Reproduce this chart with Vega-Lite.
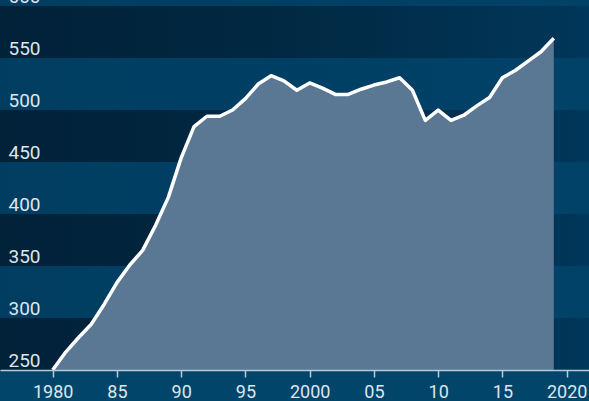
{
  "$schema": "https://vega.github.io/schema/vega-lite/v6.json",
  "width": 589,
  "height": 370,
  "autosize": "none",
  "padding": {"left": 0, "top": 0, "right": 0, "bottom": 31},
  "background": "#01456b",
  "config": {"view": {"stroke": null}, "font": "Roboto"},
  "datasets": {
    "bands": [
      {"lo": 250, "hi": 300, "shade": "dark"},
      {"lo": 300, "hi": 350, "shade": "light"},
      {"lo": 350, "hi": 400, "shade": "dark"},
      {"lo": 400, "hi": 450, "shade": "light"},
      {"lo": 450, "hi": 500, "shade": "dark"},
      {"lo": 500, "hi": 550, "shade": "light"},
      {"lo": 550, "hi": 600, "shade": "dark"},
      {"lo": 600, "hi": 620, "shade": "light"}
    ],
    "series": [
      {"year": 1980, "value": 250},
      {"year": 1981, "value": 267},
      {"year": 1982, "value": 281},
      {"year": 1983, "value": 294},
      {"year": 1984, "value": 313},
      {"year": 1985, "value": 334},
      {"year": 1986, "value": 351},
      {"year": 1987, "value": 365},
      {"year": 1988, "value": 389},
      {"year": 1989, "value": 416},
      {"year": 1990, "value": 454},
      {"year": 1991, "value": 484},
      {"year": 1992, "value": 494},
      {"year": 1993, "value": 494},
      {"year": 1994, "value": 500},
      {"year": 1995, "value": 511},
      {"year": 1996, "value": 525},
      {"year": 1997, "value": 533},
      {"year": 1998, "value": 528},
      {"year": 1999, "value": 519},
      {"year": 2000, "value": 526},
      {"year": 2001, "value": 521},
      {"year": 2002, "value": 515},
      {"year": 2003, "value": 515},
      {"year": 2004, "value": 520},
      {"year": 2005, "value": 524},
      {"year": 2006, "value": 527},
      {"year": 2007, "value": 531},
      {"year": 2008, "value": 519},
      {"year": 2009, "value": 490},
      {"year": 2010, "value": 500},
      {"year": 2011, "value": 490},
      {"year": 2012, "value": 495},
      {"year": 2013, "value": 504},
      {"year": 2014, "value": 512},
      {"year": 2015, "value": 531},
      {"year": 2016, "value": 538},
      {"year": 2017, "value": 547},
      {"year": 2018, "value": 556},
      {"year": 2019, "value": 569}
    ]
  },
  "layer": [
    {
      "data": {"name": "bands"},
      "transform": [{"filter": "datum.shade == 'light'"}],
      "mark": {"type": "rect", "clip": true, "fill": {"gradient": "linear", "x1": 0, "x2": 1, "y1": 0, "y2": 0, "stops": [{"offset": 0, "color": "#003d61"}, {"offset": 1, "color": "#014268"}]}},
      "encoding": {
        "y": {"field": "lo", "type": "quantitative", "scale": {"domain": [250, 605.8], "nice": false, "zero": false},
          "axis": {"values": [250, 300, 350, 400, 450, 500, 550, 600], "title": null, "grid": false, "domain": false, "ticks": false, "tickSize": 0,
            "labelAlign": "left", "labelBaseline": "alphabetic", "labelPadding": -8, "labelOffset": -4,
            "labelColor": "#dde6ee", "labelFontSize": 19, "labelFont": "Roboto", "labelFlush": false, "labelOverlap": false, "zindex": 2}},
        "y2": {"field": "hi"}
      }
    },
    {
      "data": {"name": "bands"},
      "transform": [{"filter": "datum.shade == 'dark'"}],
      "mark": {"type": "rect", "clip": true, "fill": {"gradient": "linear", "x1": 0, "x2": 1, "y1": 0, "y2": 0, "stops": [{"offset": 0, "color": "#012138"}, {"offset": 0.5, "color": "#012943"}, {"offset": 1, "color": "#01375a"}]}},
      "encoding": {
        "y": {"field": "lo", "type": "quantitative"},
        "y2": {"field": "hi"}
      }
    },
    {
      "data": {"name": "series"},
      "mark": {"type": "area", "color": "#5a7794", "opacity": 1, "clip": true},
      "encoding": {
        "x": {"field": "year", "type": "quantitative", "scale": {"domain": [1975.9, 2021.74], "nice": false, "zero": false},
          "axis": {"values": [1980, 1985, 1990, 1995, 2000, 2005, 2010, 2015, 2020], "title": null, "grid": false,
            "labelExpr": "(datum.value % 20 == 0) ? toString(datum.value) : slice(toString(datum.value), 2)",
            "domainColor": "#b9c9d8", "domainWidth": 1.5, "tickColor": "#b9c9d8", "tickWidth": 1.5, "tickSize": 7,
            "labelColor": "#dde6ee", "labelFontSize": 18, "labelFont": "Roboto", "labelPadding": 6, "labelFlush": false, "labelOverlap": false, "zindex": 2}},
        "y": {"field": "value", "type": "quantitative"}
      }
    },
    {
      "data": {"name": "series"},
      "mark": {"type": "line", "color": "#ffffff", "strokeWidth": 3.5, "clip": true, "strokeJoin": "round"},
      "encoding": {
        "x": {"field": "year", "type": "quantitative"},
        "y": {"field": "value", "type": "quantitative"}
      }
    }
  ]
}
